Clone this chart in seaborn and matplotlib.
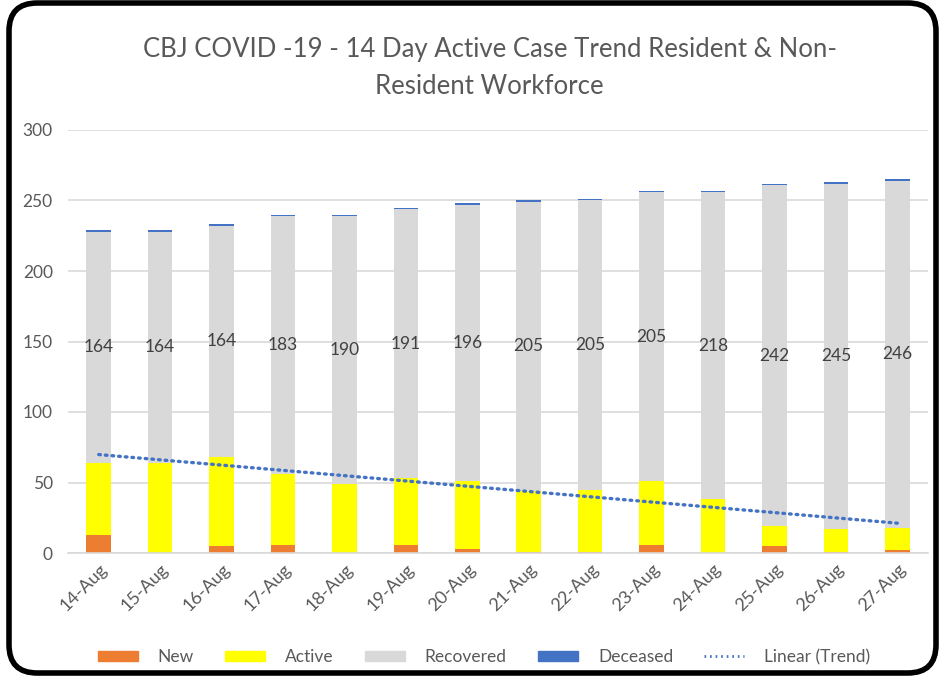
import numpy as np
import pandas as pd
import matplotlib
matplotlib.use("Agg")
import matplotlib.pyplot as plt
from matplotlib.patches import FancyBboxPatch, Patch
from matplotlib.lines import Line2D
import seaborn as sns

dates = ["14-Aug", "15-Aug", "16-Aug", "17-Aug", "18-Aug", "19-Aug", "20-Aug",
         "21-Aug", "22-Aug", "23-Aug", "24-Aug", "25-Aug", "26-Aug", "27-Aug"]
new = [13, 0, 5, 6, 0, 6, 3, 1, 1, 6, 0, 5, 1, 2]
active = [51, 64, 63, 50, 49, 47, 48, 43, 44, 45, 38, 14, 16, 16]
recovered = [164, 164, 164, 183, 190, 191, 196, 205, 205, 205, 218, 242, 245, 246]
deceased = [1, 1, 1, 1, 1, 1, 1, 1, 1, 1, 1, 1, 1, 1]
trend_source = [n + a for n, a in zip(new, active)]

title = "CBJ COVID -19 - 14 Day Active Case Trend Resident & Non-\nResident Workforce"

C_NEW = "#ED7D31"
C_ACT = "#FFFF00"
C_REC = "#D9D9D9"
C_DEC = "#4472C4"
TXT = "#595959"

sns.set_theme(style="white")
plt.rcParams["font.family"] = ["Lato", "DejaVu Sans"]

df = pd.DataFrame({"date": dates, "new": new, "active": active,
                   "recovered": recovered, "deceased": deceased})
df["c1"] = df["new"]
df["c2"] = df["c1"] + df["active"]
df["c3"] = df["c2"] + df["recovered"]
df["c4"] = df["c3"] + df["deceased"]

fig = plt.figure(figsize=(9.4, 6.85), dpi=100)
ax = fig.add_axes([68/940, 1-553/685, (928-68)/940, (553-130)/685])

for col, color in [("c4", C_DEC), ("c3", C_REC), ("c2", C_ACT), ("c1", C_NEW)]:
    sns.barplot(data=df, x="date", y=col, color=color, width=0.4,
                saturation=1, ax=ax, zorder=2, linewidth=0)

# trend line (linear fit)
xs = np.arange(len(dates))
coef = np.polyfit(xs, trend_source, 1)
tr = np.polyval(coef, xs)
sns.lineplot(x=xs, y=tr, ax=ax, color=C_DEC, lw=2.4,
             linestyle=(0, (0.5, 1.5)), dash_capstyle="round", zorder=4)

# data labels on recovered segment
for i in range(len(dates)):
    yc = df["c2"][i] + df["recovered"][i] / 2
    ax.text(i, yc, str(recovered[i]), ha="center", va="center",
            fontsize=12.5, color="#404040", zorder=5)

ax.set_ylim(0, 300)
ax.set_xlim(-0.5, len(dates) - 0.5)
ax.set_yticks(range(0, 301, 50))
ax.yaxis.grid(True, color="#D9D9D9", lw=1.2, zorder=0)
ax.set_axisbelow(True)
for s in ["top", "right", "left"]:
    ax.spines[s].set_visible(False)
ax.spines["bottom"].set_color("#D9D9D9")
ax.spines["bottom"].set_linewidth(1.2)
ax.set_xlabel("")
ax.set_ylabel("")
ax.tick_params(axis="both", length=0, labelsize=12.5, labelcolor=TXT)
ax.tick_params(axis="x", labelsize=13)
ax.tick_params(axis="y", pad=11)
ax.set_xticks(xs)
ax.set_xticklabels(dates, rotation=45, ha="right", rotation_mode="anchor")
ax.tick_params(axis="x", pad=6)

fig.text(0.521, 1-68/685, title, ha="center", va="center", fontsize=18.5,
         color=TXT, linespacing=1.6)

handles = [Patch(color=C_NEW, label="New"),
           Patch(color=C_ACT, label="Active"),
           Patch(color=C_REC, label="Recovered"),
           Patch(color=C_DEC, label="Deceased"),
           Line2D([0], [0], color=C_DEC, lw=2, linestyle=(0, (0.6, 1.4)),
                  label="Linear (Trend)")]
leg = fig.legend(handles=handles, loc="center", bbox_to_anchor=(0.515, 1-657/685),
                 ncol=5, frameon=False, fontsize=12.5, handlelength=2.3,
                 handleheight=0.55, columnspacing=1.8, handletextpad=1.15)
for t in leg.get_texts():
    t.set_color(TXT)

border = FancyBboxPatch((9/940, 12/685), (936-9)/940, (682-12)/685,
                        boxstyle="round,pad=0,rounding_size=0.03",
                        transform=fig.transFigure, fill=False,
                        edgecolor="black", linewidth=4, mutation_aspect=940/685)
fig.patches.append(border)

fig.savefig("out.png", dpi=100)
